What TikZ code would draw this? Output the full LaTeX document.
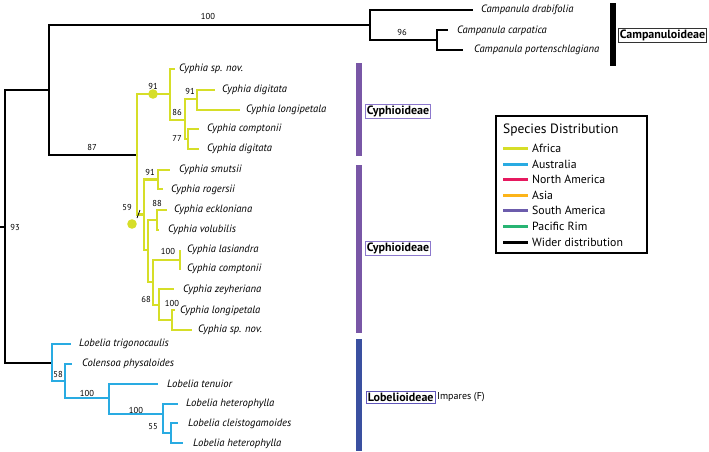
\documentclass[tikz,border=0pt]{standalone}
\usepackage{fontspec}
\setmainfont{PT Sans}
\definecolor{cyp}{RGB}{214,222,40}
\definecolor{lob}{RGB}{41,171,226}
\definecolor{namer}{RGB}{230,25,95}
\definecolor{asia}{RGB}{252,180,25}
\definecolor{samer}{RGB}{108,92,172}
\definecolor{pacr}{RGB}{40,180,115}
\definecolor{pbar}{RGB}{121,87,166}
\definecolor{bbar}{RGB}{58,80,160}
\definecolor{pbox}{RGB}{140,120,205}
\definecolor{lbox}{RGB}{95,85,185}
\begin{document}
\begin{tikzpicture}[x=1pt,y=-1pt,
  br/.style={line width=2.9pt, line join=miter},
  blk/.style={br, black},
  yel/.style={br, cyp},
  blu/.style={br, lob},
  sp/.style={anchor=west, inner sep=0pt, font=\fontsize{10.6}{12}\selectfont\itshape},
  bs/.style={inner sep=0pt, font=\fontsize{8.6}{10}\selectfont},
  clade/.style={draw, line width=0.6pt, inner xsep=1.5pt, inner ysep=1.5pt, anchor=west, font=\fontsize{12}{14}\selectfont\bfseries},
  bar/.style={line width=6pt},
  leg/.style={line width=3pt},
  legtxt/.style={anchor=west, inner sep=0pt, font=\fontsize{11.8}{14}\selectfont}]
\useasboundingbox (0,0) rectangle (709,451);

% ---------- coordinates ----------
\coordinate (R0) at (0,227);
\coordinate (R) at (5,227);
\coordinate (A) at (49,90);
\coordinate (C) at (370,25);
\coordinate (C2) at (437,40);
\coordinate (tC1) at (473,10);
\coordinate (tC2) at (448,30);
\coordinate (tC3) at (463,50);
\coordinate (B) at (137,155);
% upper Cyphia
\coordinate (Y1) at (170,94);
\coordinate (tY1) at (175,69);
\coordinate (Y2) at (185,120);
\coordinate (Y3) at (197,99);
\coordinate (tY3a) at (215,90);
\coordinate (tY3b) at (240,110);
\coordinate (Y4) at (188,139);
\coordinate (tY4a) at (199,129);
\coordinate (tY4b) at (199,149);
% lower Cyphia
\coordinate (X0) at (144,214.5);
\coordinate (S1) at (158,179.5);
\coordinate (tS1a) at (170,170);
\coordinate (tS1b) at (163,189);
\coordinate (X1) at (148,250);
\coordinate (E) at (157,220);
\coordinate (tEa) at (167,210);
\coordinate (tEb) at (159,230);
\coordinate (V2) at (153,282);
\coordinate (T) at (180,260);
\coordinate (tTa) at (180,250);
\coordinate (tTb) at (180,270);
\coordinate (V3) at (159,305);
\coordinate (tV3) at (174,289);
\coordinate (V4) at (172,320);
\coordinate (tV4a) at (175,310);
\coordinate (tV4b) at (192,330);
% Lobelioideae
\coordinate (L1) at (52,363);
\coordinate (tL1) at (71,344);
\coordinate (L2) at (65,381);
\coordinate (tL2) at (72,364);
\coordinate (L3) at (109,398);
\coordinate (tL3) at (158,384);
\coordinate (L4) at (163,414);
\coordinate (tL4) at (178,404);
\coordinate (L5) at (171,433);
\coordinate (tL5a) at (178,423);
\coordinate (tL5b) at (183,443);

% ---------- black branches ----------
\draw[blk] (R0) -- (R);
\draw[blk] (R) |- (A);
\draw[blk] (R) |- (L1);
\draw[blk] (A) |- (C);
\draw[blk] (A) |- (B);
\draw[blk] (C) |- (tC1);
\draw[blk] (C) |- (C2);
\draw[blk] (C2) |- (tC2);
\draw[blk] (C2) |- (tC3);

% ---------- yellow branches ----------
\draw[yel] (B) |- (Y1);
\draw[yel] (B) |- (X0);
\draw[yel] (Y1) |- (tY1);
\draw[yel] (Y1) |- (Y2);
\draw[yel] (Y2) |- (Y3);
\draw[yel] (Y2) |- (Y4);
\draw[yel] (Y3) |- (tY3a);
\draw[yel] (Y3) |- (tY3b);
\draw[yel] (Y4) |- (tY4a);
\draw[yel] (Y4) |- (tY4b);
\draw[yel] (X0) |- (S1);
\draw[yel] (X0) |- (X1);
\draw[yel] (S1) |- (tS1a);
\draw[yel] (S1) |- (tS1b);
\draw[yel] (X1) |- (E);
\draw[yel] (X1) |- (V2);
\draw[yel] (E) |- (tEa);
\draw[yel] (E) |- (tEb);
\draw[yel] (V2) |- (T);
\draw[yel] (tTa) -- (tTb);
\draw[yel] (V2) |- (V3);
\draw[yel] (V3) |- (tV3);
\draw[yel] (V3) |- (V4);
\draw[yel] (V4) |- (tV4a);
\draw[yel] (V4) |- (tV4b);
\fill[cyp] (153,94) circle (4.8pt) coordinate (dot1);
\fill[cyp] (132,224) circle (4.8pt) coordinate (dot2);
\coordinate (sl1) at (137,218);
\coordinate (sl2) at (140,210);
\draw[black, line width=0.8pt] (sl1) -- (sl2);

% ---------- blue branches ----------
\draw[blu] (L1) |- (tL1);
\draw[blu] (L1) |- (L2);
\draw[blu] (L2) |- (tL2);
\draw[blu] (L2) |- (L3);
\draw[blu] (L3) |- (tL3);
\draw[blu] (L3) |- (L4);
\draw[blu] (L4) |- (tL4);
\draw[blu] (L4) |- (L5);
\draw[blu] (L5) |- (tL5a);
\draw[blu] (L5) |- (tL5b);

% ---------- taxon labels ----------
\node[sp] (nC1) at (481,10) {Campanula drabifolia};
\node[sp] (nC2) at (457,31) {Campanula carpatica};
\node[sp] (nC3) at (474,50) {Campanula portenschlagiana};
\node[sp] (n1) at (179,69) {Cyphia sp. nov.};
\node[sp] (n2) at (222,90) {Cyphia digitata};
\node[sp] (n3) at (246,110) {Cyphia longipetala};
\node[sp] (n4) at (207,129) {Cyphia comptonii};
\node[sp] (n5) at (207,149) {Cyphia digitata};
\node[sp] (n6) at (179,170) {Cyphia smutsii};
\node[sp] (n7) at (171,190) {Cyphia rogersii};
\node[sp] (n8) at (174,210) {Cyphia eckloniana};
\node[sp] (n9) at (168,230) {Cyphia volubilis};
\node[sp] (n10) at (187,250) {Cyphia lasiandra};
\node[sp] (n11) at (187,269) {Cyphia comptonii};
\node[sp] (n12) at (183,290) {Cyphia zeyheriana};
\node[sp] (n13) at (180,311) {Cyphia longipetala};
\node[sp] (n14) at (198,330) {Cyphia sp. nov.};
\node[sp] (n15) at (79,344) {Lobelia trigonocaulis};
\node[sp] (n16) at (82,364) {Colensoa physaloides};
\node[sp] (n17) at (167,384) {Lobelia tenuior};
\node[sp] (n18) at (186,404) {Lobelia heterophylla};
\node[sp] (n19) at (188,424) {Lobelia cleistogamoides};
\node[sp] (n20) at (193,444) {Lobelia heterophylla};

% ---------- support values ----------
\node[bs] (b1) at (208,16) {100};
\node[bs] (b2) at (402,32) {96};
\node[bs] (b3) at (92,147) {87};
\node[bs] (b4) at (15,227) {93};
\node[bs] (b5) at (153,86) {91};
\node[bs] (b6) at (190,91) {91};
\node[bs] (b7) at (177,112) {86};
\node[bs] (b8) at (177,138) {77};
\node[bs] (b9) at (150,172) {91};
\node[bs] (b10) at (157,203) {88};
\node[bs] (b11) at (127,207) {59};
\node[bs] (b12) at (168,251) {100};
\node[bs] (b13) at (146,299) {68};
\node[bs] (b14) at (172,303) {100};
\node[bs] (b15) at (58,374) {58};
\node[bs] (b16) at (87,393) {100};
\node[bs] (b17) at (136,410) {100};
\node[bs] (b18) at (153,427) {55};

% ---------- clade bars ----------
\draw[bar, black] (613,3) -- (613,66);
\draw[bar, pbar] (359,63) -- (359,156);
\draw[bar, pbar] (359,165) -- (359,333);
\draw[bar, bbar] (359,339) -- (359,451);
\node[clade, draw=black!80] (k1) at (618,35) {Campanuloideae};
\node[clade, draw=pbox] (k2) at (365,111) {Cyphioideae};
\node[clade, draw=pbox] (k3) at (365,248) {Cyphioideae};
\node[clade, draw=lbox] (k4) at (366,397) {Lobelioideae};
\node[anchor=west, inner sep=0pt, font=\fontsize{10}{12}\selectfont] (imp) at (437,397) {Impares (F)};

% ---------- legend ----------
\draw[line width=1.2pt] (496,116) rectangle (647,253);
\node[anchor=west, inner sep=0pt, font=\fontsize{13.5}{16}\selectfont] (lt) at (503,130) {Species Distribution};
\draw[leg, cyp] (503,148) -- (528,148);
\node[legtxt] (l1) at (532,148) {Africa};
\draw[leg, lob] (503,164) -- (528,164);
\node[legtxt] (l2) at (532,164) {Australia};
\draw[leg, namer] (503,179) -- (528,179);
\node[legtxt] (l3) at (532,179) {North America};
\draw[leg, asia] (503,195) -- (528,195);
\node[legtxt] (l4) at (532,195) {Asia};
\draw[leg, samer] (503,210) -- (528,210);
\node[legtxt] (l5) at (532,210) {South America};
\draw[leg, pacr] (503,226) -- (528,226);
\node[legtxt] (l6) at (532,226) {Pacific Rim};
\draw[leg, black] (503,242) -- (528,242);
\node[legtxt] (l7) at (532,242) {Wider distribution};
\end{tikzpicture}
\end{document}
